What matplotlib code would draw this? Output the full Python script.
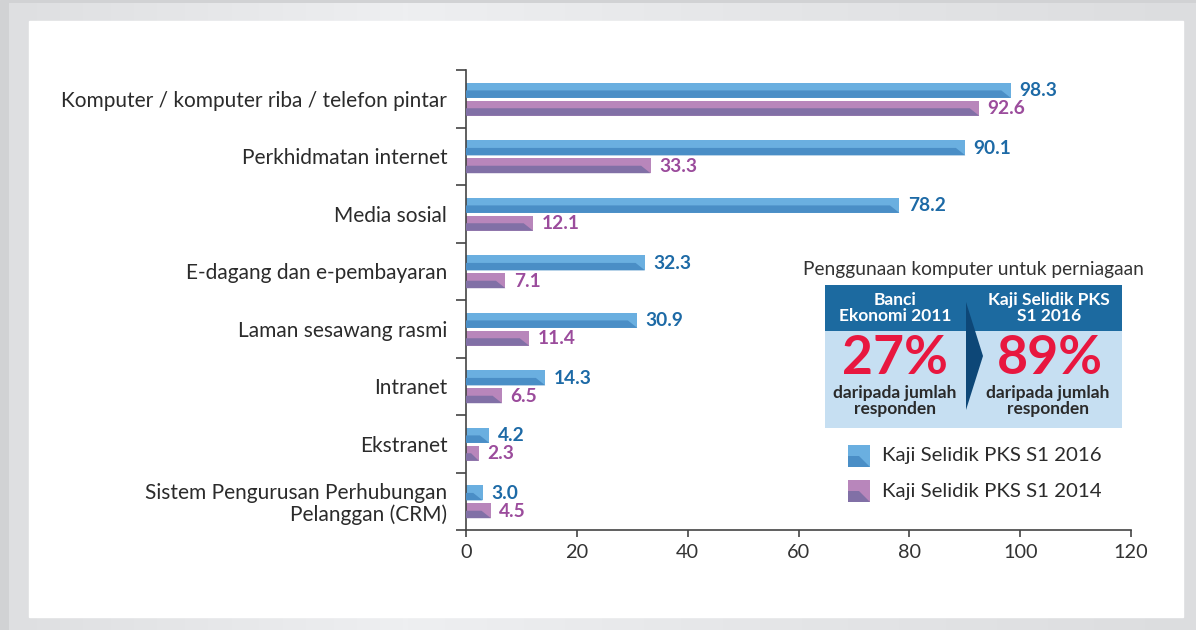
import matplotlib
matplotlib.use("Agg")
import matplotlib.pyplot as plt
from matplotlib.patches import Rectangle, Polygon
from matplotlib.colors import LinearSegmentedColormap
import numpy as np

categories = [
    "Komputer / komputer riba / telefon pintar",
    "Perkhidmatan internet",
    "Media sosial",
    "E-dagang dan e-pembayaran",
    "Laman sesawang rasmi",
    "Intranet",
    "Ekstranet",
    "Sistem Pengurusan Perhubungan\nPelanggan (CRM)",
]
series_names = ["Kaji Selidik PKS S1 2016", "Kaji Selidik PKS S1 2014"]
values_2016 = [98.3, 90.1, 78.2, 32.3, 30.9, 14.3, 4.2, 3.0]
values_2014 = [92.6, 33.3, 12.1, 7.1, 11.4, 6.5, 2.3, 4.5]
xticks = [0, 20, 40, 60, 80, 100, 120]

FONT = "Lato"
plt.rcParams['font.family'] = [FONT, 'DejaVu Sans']

W, H = 1196, 630
fig = plt.figure(figsize=(W / 100, H / 100), dpi=100)

# background frames
bg = fig.add_axes([0, 0, 1, 1], zorder=-10)
bg.set_xlim(0, W); bg.set_ylim(H, 0); bg.axis("off")
bg.add_patch(Rectangle((0, 0), W, H, color="#d1d2d4"))
grad = np.linspace(0, 1, 256).reshape(1, -1)
cm = LinearSegmentedColormap.from_list("g", ["#dedfe1", "#eeeff1", "#e4e5e7", "#dcdddf"])
bg.imshow(grad, cmap=cm, extent=(9, W, H, 3), aspect="auto", zorder=1)
bg.add_patch(Rectangle((29, 21), 1183 - 29, 617 - 21, color="white", zorder=2))

BL, BD = "#6aafe0", "#4a8ec6"
PL, PD = "#b886bb", "#8170a6"
BT, PT = "#1d6aa6", "#9b4c9c"

ax = fig.add_axes([466 / W, 1 - 530 / H, 665 / W, 460 / H])
n = len(categories)
pos = np.arange(n)
hb = 0.26
yb = pos + 0.355
yp = pos + 0.665

def draw(vals, ys, light, dark, tcol):
    ax.barh(ys, vals, height=hb, color=light, zorder=2)
    for v, y in zip(vals, ys):
        d = min(1.7, v * 0.6)
        ax.add_patch(Polygon([(0, y), (v - d, y), (v, y + hb / 2), (0, y + hb / 2)],
                             closed=True, color=dark, lw=0, zorder=3))
        ax.text(v + 1.5, y + 0.01, f"{v:.1f}", color=tcol, fontsize=13.8,
                fontweight="bold", va="center", ha="left", zorder=4)

draw(values_2016, yb, BL, BD, BT)
draw(values_2014, yp, PL, PD, PT)

ax.set_xlim(0, 120)
ax.set_ylim(n, 0)
ax.set_xticks(xticks)
ax.set_xticklabels([str(t) for t in xticks], fontsize=14.3, color="#333333")
ax.tick_params(axis="x", length=5, width=1.2, color="#444444", pad=5)
ax.set_yticks(np.arange(n + 1))
ax.set_yticklabels([])
ax.tick_params(axis="y", which="major", length=7, width=1.2, color="#444444")
ax.set_yticks(pos + 0.5, minor=True)
ax.set_yticklabels(categories, minor=True, fontsize=15, color="#2b2b2b", ha="right",
                   linespacing=1.1)
ax.tick_params(axis="y", which="minor", length=0, pad=13.5)
for s in ["top", "right"]:
    ax.spines[s].set_visible(False)
for s in ["left", "bottom"]:
    ax.spines[s].set_color("#444444")
    ax.spines[s].set_linewidth(1.2)
ax.patch.set_alpha(0)

# info box (figure pixel coordinates)
ov = fig.add_axes([0, 0, 1, 1], zorder=5)
ov.set_xlim(0, W); ov.set_ylim(H, 0); ov.axis("off")
ov.text(973, 270, "Penggunaan komputer untuk perniagaan", fontsize=13.8,
        color="#333333", ha="center", va="center")
ov.add_patch(Rectangle((825, 285), 1122 - 825, 46, color="#1c6aa0", lw=0))
ov.add_patch(Rectangle((825, 331), 1122 - 825, 428 - 331, color="#c6dff2", lw=0))
ov.add_patch(Polygon([(966, 302), (983, 356), (966, 410)], closed=True,
                     color="#0d4777", lw=0))
ov.text(895, 308, "Banci\nEkonomi 2011", fontsize=12.5, color="white", fontweight="bold",
        ha="center", va="center", linespacing=1.0)
ov.text(1049, 308, "Kaji Selidik PKS\nS1 2016", fontsize=12.5, color="white",
        fontweight="bold", ha="center", va="center", linespacing=1.0)
ov.text(895, 358, "27%", fontsize=38.5, color="#e8173f", fontweight="bold",
        ha="center", va="center")
ov.text(1050, 358, "89%", fontsize=38.5, color="#e8173f", fontweight="bold",
        ha="center", va="center")
ov.text(895, 401, "daripada jumlah\nresponden", fontsize=12.5, color="#2a2a2a",
        fontweight="bold", ha="center", va="center", linespacing=1.0)
ov.text(1048, 401, "daripada jumlah\nresponden", fontsize=12.5, color="#2a2a2a",
        fontweight="bold", ha="center", va="center", linespacing=1.0)

# legend
for (name, light, dark, yc) in [(series_names[0], BL, BD, 456), (series_names[1], PL, PD, 491)]:
    x0, y0, s = 848, yc - 11, 22
    ov.add_patch(Rectangle((x0, y0), s, s, color=light, lw=0))
    ov.add_patch(Polygon([(x0, y0 + s * 0.5), (x0 + s * 0.5, y0 + s * 0.5),
                          (x0 + s, y0 + s), (x0, y0 + s)], closed=True, color=dark, lw=0))
    ov.text(882, yc, name, fontsize=14.7, color="#2b2b2b", ha="left", va="center")

fig.savefig("out.png", dpi=100)
